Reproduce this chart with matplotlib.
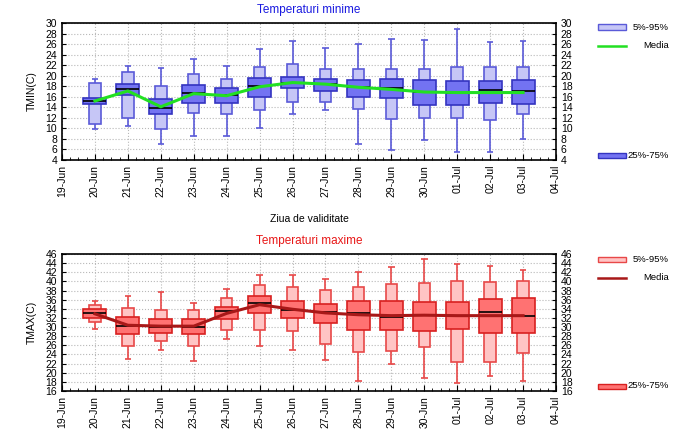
import numpy as np
import matplotlib.pyplot as plt
from matplotlib.patches import Rectangle
from matplotlib.lines import Line2D
from matplotlib.ticker import MultipleLocator

plt.rcParams['font.family'] = ['Liberation Sans', 'DejaVu Sans']

# tick labels on the date axis (one per day) and the days that have a box
tick_labels = ['19-Jun', '20-Jun', '21-Jun', '22-Jun', '23-Jun', '24-Jun', '25-Jun', '26-Jun',
               '27-Jun', '28-Jun', '29-Jun', '30-Jun', '01-Jul', '02-Jul', '03-Jul', '04-Jul']
box_days = tick_labels[1:-1]

# minimum temperature ensemble statistics
tmin_p0 = [9.8, 10.5, 7.1, 8.5, 8.6, 10.0, 12.7, 13.5, 7.1, 5.9, 7.8, 5.5, 5.5, 8.0]
tmin_p5 = [10.9, 12.0, 9.8, 12.9, 12.7, 13.5, 15.0, 15.0, 13.7, 11.8, 12.0, 12.0, 11.6, 12.8]
tmin_p25 = [14.7, 16.4, 12.8, 14.9, 14.9, 16.0, 17.7, 17.1, 16.0, 15.7, 14.5, 14.5, 14.9, 14.7]
tmin_med = [15.2, 17.5, 13.9, 16.7, 16.3, 18.1, 18.7, 18.4, 17.9, 17.7, 16.9, 16.8, 17.2, 17.0]
tmin_p75 = [15.8, 18.5, 15.6, 18.2, 17.7, 19.6, 19.7, 19.4, 19.1, 19.3, 19.1, 19.0, 18.9, 19.2]
tmin_p95 = [18.6, 20.7, 18.1, 20.3, 19.4, 21.7, 22.3, 21.3, 21.2, 21.3, 21.2, 21.6, 21.6, 21.7]
tmin_p100 = [19.4, 21.9, 21.5, 23.1, 21.9, 25.0, 26.6, 25.2, 26.0, 27.0, 26.7, 28.9, 26.3, 26.5]
tmin_mean = [15.2, 17.1, 14.1, 16.6, 16.2, 17.9, 18.7, 18.4, 17.8, 17.4, 16.9, 16.8, 16.8, 16.8]

# maximum temperature ensemble statistics
tmax_p0 = [29.6, 23.0, 25.0, 22.5, 27.3, 25.8, 25.0, 22.7, 18.1, 22.0, 18.9, 17.8, 19.2, 18.1]
tmax_p5 = [31.1, 25.9, 27.0, 25.9, 29.4, 29.4, 29.1, 26.4, 24.5, 24.8, 25.6, 22.3, 22.3, 24.4]
tmax_p25 = [32.0, 28.5, 28.6, 28.4, 31.7, 33.1, 32.0, 30.9, 29.4, 29.4, 29.2, 29.6, 28.6, 28.6]
tmax_med = [33.0, 30.3, 30.0, 30.0, 33.5, 35.3, 33.8, 33.2, 33.0, 32.2, 32.7, 32.4, 33.3, 32.5]
tmax_p75 = [33.9, 32.3, 31.8, 31.8, 34.4, 36.9, 35.7, 35.0, 35.8, 35.8, 35.5, 35.5, 36.2, 36.3]
tmax_p95 = [34.9, 34.2, 33.8, 33.8, 36.3, 39.2, 38.8, 38.1, 38.8, 39.5, 39.6, 40.0, 39.9, 40.0]
tmax_p100 = [35.8, 36.9, 37.7, 35.3, 38.3, 41.4, 41.3, 40.6, 42.1, 43.2, 44.8, 43.8, 43.3, 42.5]
tmax_mean = [32.9, 30.4, 30.2, 30.2, 33.0, 34.9, 33.9, 33.1, 32.7, 32.5, 32.6, 32.5, 32.5, 32.5]


def box_panel(ax, p0, p5, p25, med, p75, p95, p100, mean, c):
    x = np.arange(1, len(box_days) + 1)
    ax.vlines(x, p0, p5, color=c['edge1'], lw=1.2, zorder=2)
    ax.vlines(x, p95, p100, color=c['edge1'], lw=1.2, zorder=2)
    ax.hlines(p0, x - 0.1, x + 0.1, color=c['edge1'], lw=1.2, zorder=2)
    ax.hlines(p100, x - 0.1, x + 0.1, color=c['edge1'], lw=1.2, zorder=2)
    ax.bar(x, np.subtract(p95, p5), bottom=p5, width=0.35, color=c['fill1'],
           edgecolor=c['edge1'], lw=1.2, zorder=3)
    ax.bar(x, np.subtract(p75, p25), bottom=p25, width=0.7, color=c['fill2'],
           edgecolor=c['edge2'], lw=1.2, zorder=4)
    ax.hlines(med, x - 0.35, x + 0.35, color='black', lw=1.2, zorder=5)
    ax.plot(x, mean, color=c['mean'], lw=2.2, zorder=6)

    ax.set_xlim(0, len(tick_labels) - 1)
    ax.set_xticks(np.arange(len(tick_labels)))
    ax.set_xticklabels(tick_labels, rotation=90, fontsize=7.5)
    ax.xaxis.set_minor_locator(MultipleLocator(0.25))
    ax.yaxis.set_major_locator(MultipleLocator(2))
    ax.tick_params(which='both', direction='in', top=False, right=True,
                   labelright=True, labelsize=7.5, length=3)
    ax.tick_params(which='minor', length=2)
    ax.tick_params(axis='x', which='major', length=4)
    ax.grid(True, which='major', color='#b8b8b8', linestyle=':', lw=0.8)
    for s in ax.spines.values():
        s.set_linewidth(1.2)


def legend(fig, y5, ymed, y25, c):
    x0, w, h = 598 / 692, 28 / 692, 5 / 430
    fig.add_artist(Rectangle((x0, 1 - y5 / 430 - h / 2), w, h, transform=fig.transFigure,
                             facecolor=c['fill1'], edgecolor=c['edge1'], lw=1))
    fig.add_artist(Rectangle((x0, 1 - y25 / 430 - h / 2), w, h, transform=fig.transFigure,
                             facecolor=c['fill2'], edgecolor=c['edge2'], lw=1))
    fig.add_artist(Line2D([x0, x0 + w], [1 - ymed / 430] * 2, transform=fig.transFigure,
                          color=c['mean'], lw=1.8))
    for y, t in [(y5, '5%-95%'), (ymed, 'Media'), (y25, '25%-75%')]:
        fig.text(669 / 692, 1 - y / 430, t, ha='right', va='center', fontsize=6.8)


blue = dict(fill1='#c6c6f6', edge1='#5a5ad8', fill2='#7373f2', edge2='#3434c0', mean='#22e022')
red = dict(fill1='#ffc4c4', edge1='#e84848', fill2='#ff7272', edge2='#d82020', mean='#a81818')

fig = plt.figure(figsize=(6.92, 4.30), dpi=100)
ax1 = fig.add_axes([62 / 692, 1 - 160 / 430, 494 / 692, 137 / 430])
ax2 = fig.add_axes([62 / 692, 1 - 391 / 430, 494 / 692, 137 / 430])

box_panel(ax1, tmin_p0, tmin_p5, tmin_p25, tmin_med, tmin_p75, tmin_p95, tmin_p100, tmin_mean, blue)
ax1.set_ylim(4, 30)
ax1.set_ylabel('TMIN(C)', fontsize=7.5, labelpad=6)
ax1.set_title('Temperaturi minime', color='#1a1ae0', fontsize=8.5, pad=7)
ax1.set_xlabel('Ziua de validitate', fontsize=7.5, labelpad=12)

box_panel(ax2, tmax_p0, tmax_p5, tmax_p25, tmax_med, tmax_p75, tmax_p95, tmax_p100, tmax_mean, red)
ax2.set_ylim(16, 46)
ax2.set_ylabel('TMAX(C)', fontsize=7.5, labelpad=6)
ax2.set_title('Temperaturi maxime', color='#e81818', fontsize=8.5, pad=7)

legend(fig, 27, 46, 155, blue)
legend(fig, 259, 278, 386, red)

fig.savefig('out.png', dpi=100)
